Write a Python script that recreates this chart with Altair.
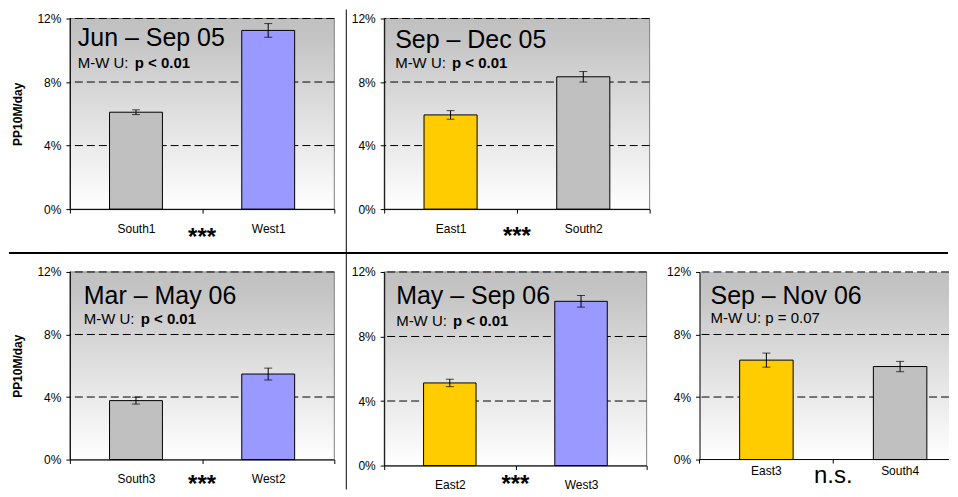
import altair as alt
import pandas as pd

FONT = "Liberation Sans"

# ---------------- data ----------------
titles = ["Jun – Sep 05", "Sep – Dec 05", "Mar – May 06", "May – Sep 06", "Sep – Nov 06"]
tests = ["p < 0.01", "p < 0.01", "p < 0.01", "p < 0.01", "p = 0.07"]
test_bold = [True, True, True, True, False]
sites = [["South1", "West1"], ["East1", "South2"], ["South3", "West2"],
         ["East2", "West3"], ["East3", "South4"]]
means = [[0.061, 0.1125], [0.0593, 0.0833], [0.0377, 0.0547],
         [0.0512, 0.1018], [0.0636, 0.0595]]
sems = [[0.0015, 0.0043], [0.0027, 0.0033], [0.0022, 0.0038],
        [0.0023, 0.0036], [0.0045, 0.0033]]
sig = ["***", "***", "***", "***", "n.s."]
y_ticks = [0, 0.04, 0.08, 0.12]
y_title = "PP10M/day"

# ---------------- styling / layout ----------------
groups = ["South", "West", "East"]
group_colors = ["#c0c0c0", "#9999ff", "#ffcc00"]

layout = [
    dict(w=265, h=191, tx=8, ty=28, sy=50, sigy=36, ytitle=True),
    dict(w=266, h=191, tx=11, ty=30, sy=50, sigy=35, ytitle=False),
    dict(w=265, h=188, tx=14, ty=32, sy=52, sigy=33, ytitle=True),
    dict(w=263, h=194, tx=12, ty=32, sy=54, sigy=27, ytitle=False),
    dict(w=250, h=188, tx=11, ty=32, sy=51, sigy=211, ytitle=False, xrange=268),
]

gradient = alt.LinearGradient(
    gradient="linear",
    stops=[alt.GradientStop(color="#c0c0c0", offset=0),
           alt.GradientStop(color="#c5c5c5", offset=0.12),
           alt.GradientStop(color="#dcdcdc", offset=0.45),
           alt.GradientStop(color="#ffffff", offset=1)],
    x1=0, x2=0, y1=0, y2=1)

one = pd.DataFrame({"a": [0]})
SUB = 15
TITLE = 25


def panel(i):
    L = layout[i]
    df = pd.DataFrame({
        "site": sites[i],
        "mean": means[i],
        "lo": [m - s for m, s in zip(means[i], sems[i])],
        "hi": [m + s for m, s in zip(means[i], sems[i])],
    })
    df["group"] = df["site"].str.rstrip("0123456789")

    yscale = alt.Scale(domain=[0, 0.12], nice=False, zero=True)
    clipped = "xrange" in L
    if clipped:
        # the last panel runs past the page edge: draw its axis pieces as marks
        xscale = alt.Scale(domain=sites[i], range=[0, L["xrange"]], paddingInner=0, paddingOuter=0)
        xaxis = None
    else:
        xscale = alt.Scale(domain=sites[i], paddingInner=0, paddingOuter=0)
        xaxis = alt.Axis(title=None, labelAngle=0, labelFont=FONT, labelFontSize=12,
                         labelColor="black", domainColor="black", tickColor="black",
                         tickSize=4, tickBand="extent", labelPadding=10, zindex=1)
    yaxis = alt.Axis(values=y_ticks, format=".0%", labelFont=FONT, labelFontSize=12,
                     labelColor="black", domainColor="black", tickColor="black",
                     tickSize=4, labelPadding=5, grid=False, zindex=1,
                     title=y_title if L["ytitle"] else None,
                     titleFont=FONT, titleFontSize=12, titleFontWeight="bold",
                     titleColor="black", titlePadding=12)

    X = alt.X("site:N", scale=xscale, axis=xaxis, sort=sites[i])

    def Y(f):
        return alt.Y(f, scale=yscale, axis=yaxis)

    base = alt.Chart(df)

    bg = alt.Chart(one).mark_rect(
        fill=gradient,
        stroke="#808080" if not clipped else "transparent",
        strokeWidth=1,
    ).encode(x=alt.value(0), x2=alt.value("width"), y=alt.value(0), y2=alt.value("height"))

    grid = alt.Chart(pd.DataFrame({"v": y_ticks[1:]})).mark_rule(
        color="black", strokeDash=[8, 4], strokeWidth=1
    ).encode(y=Y("v:Q"))

    bars = base.mark_bar(width={"band": 0.4}, stroke="black", strokeWidth=1).encode(
        x=X,
        y=Y("mean:Q"),
        color=alt.Color("group:N", scale=alt.Scale(domain=groups, range=group_colors), legend=None),
    )
    err = base.mark_rule(color="black", strokeWidth=1).encode(x=X, y=Y("lo:Q"), y2="hi:Q")
    cap_lo = base.mark_tick(color="black", thickness=1, size=8).encode(x=X, y=Y("lo:Q"))
    cap_hi = base.mark_tick(color="black", thickness=1, size=8).encode(x=X, y=Y("hi:Q"))

    layers = [bg, grid, bars, err, cap_lo, cap_hi]

    if clipped:
        layers.append(alt.Chart(one).mark_rule(color="black", strokeWidth=1).encode(
            x=alt.value(0), x2=alt.value("width"), y=alt.value("height")))
        layers.append(base.mark_rule(color="black", strokeWidth=1).encode(
            x=alt.X("site:N", scale=xscale, axis=None, sort=sites[i], bandPosition=0),
            y=alt.value(L["h"]), y2=alt.value(L["h"] + 4)))
        layers.append(base.mark_text(
            font=FONT, fontSize=12, color="black", align="center", baseline="middle"
        ).encode(x=X, y=alt.value(L["h"] + 11), text="site:N"))

    layers.append(alt.Chart(one).mark_text(
        text=titles[i], font=FONT, fontSize=TITLE, align="left", baseline="alphabetic", color="black"
    ).encode(x=alt.value(L["tx"]), y=alt.value(L["ty"])))

    if test_bold[i]:
        layers.append(alt.Chart(one).mark_text(
            text="M-W U: ", font=FONT, fontSize=SUB, align="left", baseline="alphabetic", color="black"
        ).encode(x=alt.value(L["tx"]), y=alt.value(L["sy"])))
        layers.append(alt.Chart(one).mark_text(
            text=tests[i], font=FONT, fontSize=SUB, fontWeight="bold", align="left",
            baseline="alphabetic", color="black"
        ).encode(x=alt.value(L["tx"] + 57), y=alt.value(L["sy"])))
    else:
        layers.append(alt.Chart(one).mark_text(
            text="M-W U: " + tests[i], font=FONT, fontSize=SUB, align="left",
            baseline="alphabetic", color="black"
        ).encode(x=alt.value(L["tx"]), y=alt.value(L["sy"])))

    mid = (L.get("xrange", L["w"])) / 2
    if sig[i] == "***":
        layers.append(alt.Chart(one).mark_text(
            text=sig[i], font=FONT, fontSize=24, fontWeight="bold", align="center",
            baseline="alphabetic", color="black"
        ).encode(x=alt.value(mid), y=alt.value(L["h"] + L["sigy"])))
    else:
        layers.append(alt.Chart(one).mark_text(
            text=sig[i], font=FONT, fontSize=24, align="center",
            baseline="alphabetic", color="black"
        ).encode(x=alt.value(mid), y=alt.value(L["sigy"])))

    if i == 1:
        layers.append(alt.Chart(one).mark_rule(color="black", strokeWidth=1).encode(
            x=alt.value(-38), y=alt.value(-9), y2=alt.value(472)))
    if i == 2:
        layers.append(alt.Chart(one).mark_rule(color="black", strokeWidth=2).encode(
            y=alt.value(-19), x=alt.value(-61), x2=alt.value(880)))

    return alt.layer(*layers).properties(width=L["w"], height=L["h"])


p = [panel(i) for i in range(5)]
blank = alt.Chart(one).mark_point(opacity=0).encode(
    x=alt.value(0), y=alt.value(0)).properties(width=250, height=191)

chart = alt.concat(p[0], p[1], blank, p[2], p[3], p[4], columns=3,
                   spacing={"row": 63, "column": 50}, bounds="flush").properties(
    padding=0, background="white"
).configure_view(stroke=None)

chart.save("out.html", embed_options={"renderer": "svg", "actions": False})
